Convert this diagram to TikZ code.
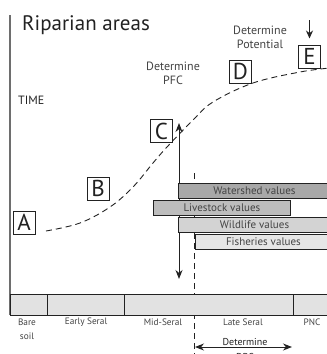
\documentclass[tikz,border=0pt]{standalone}
\usepackage{fontspec}
\setmainfont{PT Sans}
\usetikzlibrary{arrows.meta}
\definecolor{ink}{HTML}{222222}
\definecolor{axisgray}{HTML}{6E6E6E}
\definecolor{wshed}{HTML}{A8A8A8}
\definecolor{lstock}{HTML}{BDBDBD}
\definecolor{wlife}{HTML}{D3D3D3}
\definecolor{fish}{HTML}{E6E6E6}
\definecolor{stagebar}{HTML}{E2E2E2}
\tikzset{
  letterbox/.style={draw=ink, line width=0.9pt, fill=white, minimum width=22pt, minimum height=23pt, inner sep=0pt, font=\fontsize{23}{23}\selectfont, text=ink},
  valbar/.style={draw=ink, line width=0.9pt, minimum height=15pt, inner sep=0pt, anchor=north west, font=\fontsize{11}{11}\selectfont, text=ink!85},
  stagelabel/.style={font=\fontsize{9.3}{14}\selectfont, text=ink!85, align=center, inner sep=0pt},
  toplabel/.style={font=\fontsize{12}{13.5}\selectfont, text=ink!85, align=center, inner sep=0pt},
  arrowline/.style={draw=ink, line width=1pt, {Stealth[length=9pt,width=7pt]}-{Stealth[length=9pt,width=7pt]}},
  curve/.style={draw=ink, line width=0.9pt, dash pattern=on 6pt off 4pt},
}
\begin{document}
\begin{tikzpicture}[x=1pt,y=-1pt]
\useasboundingbox (0,0) rectangle (327,354);
% axis
\coordinate (axtop) at (10,15);
\coordinate (axbot) at (10,315);
\draw[axisgray, line width=1.4pt] (axtop) -- (axbot);
% title and time
\node[anchor=base west, inner sep=0pt, font=\fontsize{21}{21}\selectfont, text=ink] (title) at (22,30) {Riparian areas};
\node[anchor=base west, inner sep=0pt, font=\fontsize{12}{12}\selectfont, text=ink] (time) at (18,104) {TIME};
% dashed vertical
\coordinate (dtop) at (194,173);
\coordinate (dbot) at (194,360);
\draw[ink, line width=0.9pt, dash pattern=on 6pt off 4pt] (dtop) -- (dbot);
% curve
\draw[curve] plot[smooth, tension=0.6] coordinates {(46,231) (80,223) (110,207) (133,187) (153,163) (167,147) (193,120) (213,102) (253,83) (300,72) (330,68)};
% vertical double arrow
\coordinate (vtop) at (179,123);
\coordinate (vbot) at (179,279);
\draw[arrowline] (vbot) -- (vtop);
% value bars
\node[valbar, fill=wshed, minimum width=152pt] (wshedbar) at (178,183) {Watershed values};
\node[valbar, fill=lstock, minimum width=137pt] (lstockbar) at (153,200) {Livestock values};
\node[valbar, fill=wlife, minimum width=152pt] (wlifebar) at (178,217) {Wildlife values};
\node[valbar, fill=fish, minimum width=136pt] (fishbar) at (195,234) {Fisheries values};
% stage bar
\node[draw=ink, line width=0.9pt, fill=stagebar, anchor=north west, minimum width=322pt, minimum height=21pt, inner sep=0pt] (stages) at (10,294) {};
\coordinate (d1t) at (47,294); \coordinate (d1b) at (47,315);
\coordinate (d2t) at (124,294); \coordinate (d2b) at (124,315);
\coordinate (d3t) at (293,294); \coordinate (d3b) at (293,315);
\draw[ink, line width=0.9pt] (d1t) -- (d1b) (d2t) -- (d2b) (d3t) -- (d3b);
% stage labels
\node[stagelabel] (bare) at (27,329) {Bare\\soil};
\node[stagelabel] (early) at (86,322) {Early Seral};
\node[stagelabel] (mid) at (163,322) {Mid-Seral};
\node[stagelabel] (late) at (243,322) {Late Seral};
\node[stagelabel] (pnc) at (312,322) {PNC};
% DPC
\node[inner sep=0pt, font=\fontsize{10}{10}\selectfont, text=ink] (dpc1) at (245,342) {Determine};
\node[inner sep=0pt, font=\fontsize{10}{10}\selectfont, text=ink] (dpc2) at (245,357) {DPC};
\coordinate (dpcl) at (195,347);
\coordinate (dpcr) at (292,347);
\draw[arrowline] (dpcl) -- (dpcr);
% letter boxes
\node[letterbox] (A) at (24,222.5) {A};
\node[letterbox] (B) at (98,188.5) {B};
\node[letterbox] (C) at (161.5,131) {C};
\node[letterbox] (D) at (240.5,71.5) {D};
\node[letterbox] (E) at (309.5,56.5) {E};
% top labels
\node[toplabel] (pfc) at (173,73.5) {Determine\\PFC};
\node[toplabel] (pot) at (260,37.5) {Determine\\Potential};
\coordinate (etop) at (309.5,20);
\coordinate (ebot) at (309.5,38.5);
\draw[draw=ink, line width=1pt, -{Stealth[length=8pt,width=7pt]}] (etop) -- (ebot);
\end{tikzpicture}
\end{document}
